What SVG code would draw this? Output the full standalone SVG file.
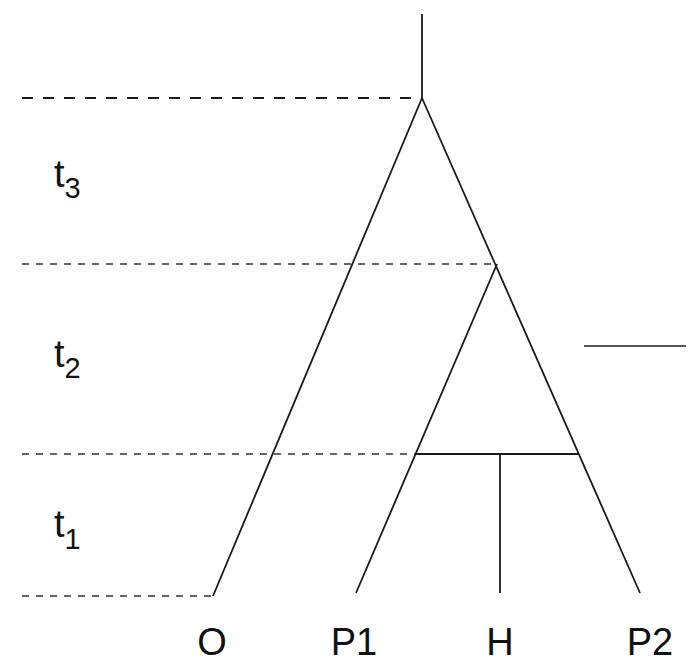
<svg xmlns="http://www.w3.org/2000/svg" width="695" height="666" viewBox="0 0 695 666">
<style>
.br{stroke:#1a1a1a;stroke-width:1.8;fill:none;stroke-linecap:butt}
.d1{stroke:#1a1a1a;stroke-width:2;stroke-dasharray:11 10;fill:none}
.d2{stroke:#333;stroke-width:1.7;stroke-dasharray:7 7;fill:none}
.lab{font-family:"Liberation Sans",Arial,sans-serif;fill:#111}
.tl{font-size:38px}
.sub{font-size:29px}
.leaf{font-size:38px;text-anchor:middle}
</style>
<rect width="695" height="666" fill="#fff"/>
<g id="time-lines">
<line class="d1" x1="22" y1="98" x2="422" y2="98"/>
<line class="d2" x1="22" y1="264" x2="497" y2="264"/>
<line class="d2" x1="22" y1="454" x2="416" y2="454"/>
<line class="d2" x1="22" y1="596" x2="213" y2="596"/>
</g>
<g id="connectors">
<line class="br" x1="422" y1="14" x2="422" y2="98"/>
<line class="br" x1="422" y1="98" x2="213" y2="596"/>
<line class="br" x1="422" y1="98" x2="640" y2="593"/>
<line class="br" x1="497" y1="264" x2="356" y2="593"/>
<line class="br" x1="416" y1="454" x2="579" y2="454"/>
<line class="br" x1="500" y1="454" x2="500" y2="593"/>
<line x1="584" y1="346" x2="686" y2="346" stroke="#555" stroke-width="2"/>
</g>
<g id="t3"><text class="lab tl" x="54" y="187">t<tspan class="sub" dy="11">3</tspan></text></g>
<g id="t2"><text class="lab tl" x="54" y="367">t<tspan class="sub" dy="11">2</tspan></text></g>
<g id="t1"><text class="lab tl" x="54" y="537">t<tspan class="sub" dy="12">1</tspan></text></g>
<g id="node-O"><text class="lab leaf" x="212" y="655">O</text></g>
<g id="node-P1"><text class="lab leaf" x="354" y="655">P1</text></g>
<g id="node-H"><text class="lab leaf" x="500" y="655">H</text></g>
<g id="node-P2"><text class="lab leaf" x="650" y="655">P2</text></g>
</svg>
